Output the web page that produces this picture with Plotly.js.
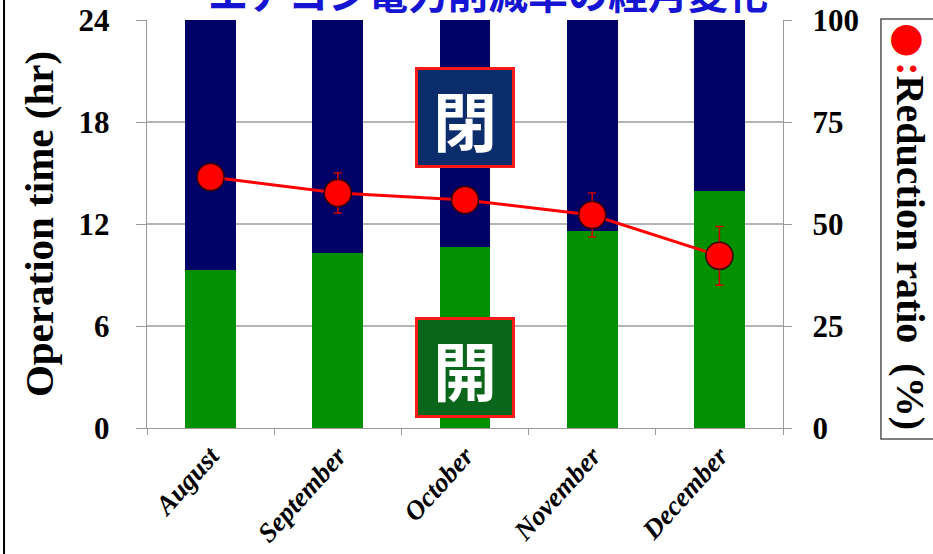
<!DOCTYPE html>
<html>
<head>
<meta charset="utf-8">
<script src="https://cdn.plot.ly/plotly-3.0.1.min.js"></script>
<style>
html,body{margin:0;padding:0;background:#fff;}
#chart{width:933px;height:554px;}
</style>
</head>
<body>
<div id="chart"></div>
<script>
// ---- data ----
var months = ["August", "September", "October", "November", "December"];
var openHours = [9.3, 10.3, 10.65, 11.6, 13.95];     // 開 (green)
var closedHours = [14.7, 13.7, 13.35, 12.4, 10.05];  // 閉 (navy)
var reductionRatio = [61.5, 57.6, 55.9, 52.2, 42.2]; // %
var reductionErr = [2.0, 4.9, 2.0, 5.4, 7.2];
var leftTicks = [0, 6, 12, 18, 24];
var rightTicks = [0, 25, 50, 75, 100];

var serif = "Liberation Serif, Times New Roman, serif";
var cjk = "Noto Sans CJK JP, sans-serif";

var traces = [
  {type: "bar", x: months, y: openHours, name: "開", marker: {color: "#009000"}, width: 0.4, hoverinfo: "y"},
  {type: "bar", x: months, y: closedHours, name: "閉", marker: {color: "#000066"}, width: 0.4, hoverinfo: "y"},
  {type: "scatter", mode: "lines+markers", x: months, y: reductionRatio, yaxis: "y2", name: "Reduction ratio",
   line: {color: "#ff0000", width: 3},
   marker: {color: "#ff0000", size: 27, line: {color: "#3a0000", width: 1.5}},
   error_y: {type: "data", array: reductionErr, visible: true, color: "#d00000", thickness: 1.5, width: 4}}
];

var layout = {
  width: 933, height: 554,
  margin: {l: 147, r: 150, t: 20, b: 126},
  paper_bgcolor: "#ffffff", plot_bgcolor: "#ffffff",
  showlegend: false,
  barmode: "stack",
  font: {family: serif, color: "#000"},
  xaxis: {
    type: "category", range: [-0.5, 4.5],
    showline: true, linecolor: "#9a9a9a", linewidth: 1.2,
    ticks: "outside", tickson: "boundaries", ticklen: 6, tickcolor: "#9a9a9a",
    tickangle: -48,
    tickfont: {family: serif, size: 27, weight: "bold", style: "italic", color: "#000"},
    showgrid: false, zeroline: false
  },
  yaxis: {
    range: [0, 24], tickvals: leftTicks, ticktext: leftTicks.map(String),
    showline: true, linecolor: "#9a9a9a", linewidth: 1.2,
    ticks: "outside", ticklen: 10, tickcolor: "#9a9a9a",
    ticklabelstandoff: 20,
    tickfont: {family: serif, size: 31, weight: "bold", color: "#000"},
    showgrid: true, gridcolor: "#b4b4b4", gridwidth: 1.2, zeroline: false,
    title: {text: "Operation time (hr)", font: {family: serif, size: 41, weight: "bold", color: "#000"}, standoff: 12}
  },
  yaxis2: {
    overlaying: "y", side: "right", range: [0, 100], tickvals: rightTicks, ticktext: rightTicks.map(String),
    showline: true, linecolor: "#9a9a9a", linewidth: 1.2,
    ticks: "outside", ticklen: 8, tickcolor: "#9a9a9a",
    ticklabelstandoff: 14,
    tickfont: {family: serif, size: 31, weight: "bold", color: "#000"},
    showgrid: false, zeroline: false
  },
  shapes: [
    {type: "rect", xref: "paper", yref: "paper", x0: 1.154, x1: 1.27, y0: -0.027, y1: 1.0025,
     line: {color: "#555555", width: 1.5}, fillcolor: "rgba(0,0,0,0)", layer: "above"},
    {type: "line", xref: "paper", yref: "paper", x0: -0.2248, x1: -0.2248, y0: -0.4, y1: 1.1,
     line: {color: "#000000", width: 2}}
  ],
  annotations: [
    {xref: "paper", yref: "paper", x: 0.536, y: 1.068, xanchor: "center", yanchor: "middle",
     text: "エアコン電力削減率の経月変化", showarrow: false,
     font: {family: cjk, size: 40, weight: "bold", color: "#1414d2"}},
    {x: "October", y: 18.26, xref: "x", yref: "y", text: "閉", showarrow: false,
     width: 94, height: 95, bgcolor: "#0c2d6b", bordercolor: "#ff1a1a", borderwidth: 3, borderpad: 0,
     font: {family: cjk, size: 64, weight: "bold", color: "#ffffff"}},
    {x: "October", y: 3.56, xref: "x", yref: "y", text: "開", showarrow: false,
     width: 94, height: 95, bgcolor: "#0a661a", bordercolor: "#ff1a1a", borderwidth: 3, borderpad: 0,
     font: {family: cjk, size: 64, weight: "bold", color: "#ffffff"}},
    {xref: "paper", yref: "paper", x: 1.2, y: 0.951, xanchor: "center", yanchor: "middle",
     textangle: 90, showarrow: false, text: "●",
     font: {family: "DejaVu Sans, sans-serif", size: 40, color: "#ff0000"}},
    {xref: "paper", yref: "paper", x: 1.2, y: 0.445, xanchor: "center", yanchor: "middle",
     textangle: 90, showarrow: false,
     text: '<span style="color:#ff0000">:</span>Reduction ratio  (%)',
     font: {family: serif, size: 40, weight: "bold", color: "#000"}}
  ]
};

Plotly.newPlot("chart", traces, layout, {displayModeBar: false, staticPlot: true});
</script>
</body>
</html>
